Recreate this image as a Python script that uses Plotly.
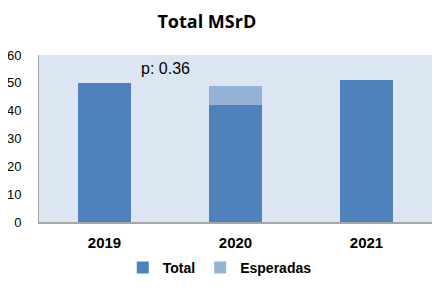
import plotly.graph_objects as go

categories = ["2019", "2020", "2021"]
total = [50, 42, 51]
esperadas = [0, 7, 0]
y_ticks = [0, 10, 20, 30, 40, 50, 60]

W, H = 437, 284

fig = go.Figure()
fig.add_trace(go.Bar(x=categories, y=total, name="Total", marker_color="#4f81bd",
                     marker_line_width=0, width=0.4))
fig.add_trace(go.Bar(x=categories, y=esperadas, name="Esperadas", marker_color="#95b3d7",
                     marker_line_width=0, width=0.4))

fig.update_layout(
    template="none",
    barmode="stack",
    width=W, height=H,
    margin=dict(l=31, r=13, t=47, b=70, autoexpand=False),
    paper_bgcolor="white",
    plot_bgcolor="#dce6f2",
    font=dict(family="Liberation Sans, Arial", color="black", size=12),
    title=dict(text="<b>Total MSrD</b>", x=0.455, xanchor="center", y=1 - 14 / H,
               yref="container", yanchor="middle",
               font=dict(family="Open Sans, DejaVu Sans", size=18, color="black")),
    showlegend=True,
    legend=dict(orientation="h", x=0.46, xanchor="center", y=(H - 260) / H, yref="container",
                yanchor="middle",
                font=dict(size=14, family="Liberation Sans, Arial", weight="bold"),
                traceorder="normal", itemwidth=30, bgcolor="rgba(0,0,0,0)"),
    annotations=[dict(x=0.26, y=55.3, xref="x", yref="y", text="p: 0.36", showarrow=False,
                      font=dict(size=16, family="Liberation Sans, Arial"), xanchor="left",
                      yanchor="middle")],
)
fig.update_xaxes(type="category", showline=True, linecolor="#a6a6a6", linewidth=2, ticks="",
                 showgrid=False, ticklabelstandoff=6,
                 tickfont=dict(size=15, family="Liberation Sans, Arial", weight="bold"))
fig.update_yaxes(range=[0, 60], tickvals=y_ticks, showgrid=False, showline=True, linecolor="#a6a6a6",
                 linewidth=1, ticks="", zeroline=False, ticklabelstandoff=14,
                 tickfont=dict(size=13))

fig.write_html("out.html")
